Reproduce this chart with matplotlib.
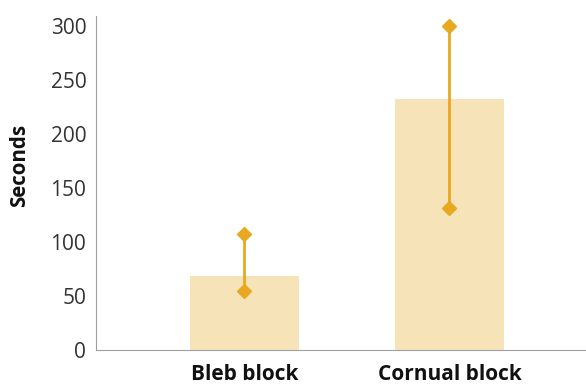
import matplotlib
matplotlib.use("Agg")
import matplotlib.pyplot as plt

categories = ["Bleb block", "Cornual block"]
means = [68, 232]
lower = [55, 131]
upper = [107, 300]

plt.rcParams['font.family'] = ['Open Sans', 'DejaVu Sans']

fig = plt.figure(figsize=(5.86, 3.85), dpi=100)
ax = fig.add_axes([96/586, 1-350/385, 490/586, (350-16)/385])

x = list(range(len(categories)))
ax.bar(x, means, width=0.53, color="#F7E3B8", zorder=1)
for xi, lo, hi in zip(x, lower, upper):
    ax.plot([xi, xi], [lo, hi], color="#E8A820", lw=2, zorder=2)
    ax.plot([xi, xi], [lo, hi], linestyle="none", marker="D", ms=7, color="#E8A820", zorder=3)

ax.set_xlim(-0.724, 1.666)
ax.set_ylim(0, 309)
ax.set_yticks([0, 50, 100, 150, 200, 250, 300])
ax.set_xticks(x)
ax.set_xticklabels(categories, fontsize=15, fontweight="bold", color="#111111")
ax.tick_params(axis="y", labelsize=15, length=0, pad=7, labelcolor="#333333")
ax.tick_params(axis="x", length=0, pad=10)
for s in ["top", "right"]:
    ax.spines[s].set_visible(False)
for s in ["left", "bottom"]:
    ax.spines[s].set_color("#A0A0A0")
ax.set_ylabel("Seconds", fontsize=14.8, fontweight="bold", color="#111111")
ax.yaxis.set_label_coords(-66/490, 0.554)

fig.savefig("out.png", dpi=100)
